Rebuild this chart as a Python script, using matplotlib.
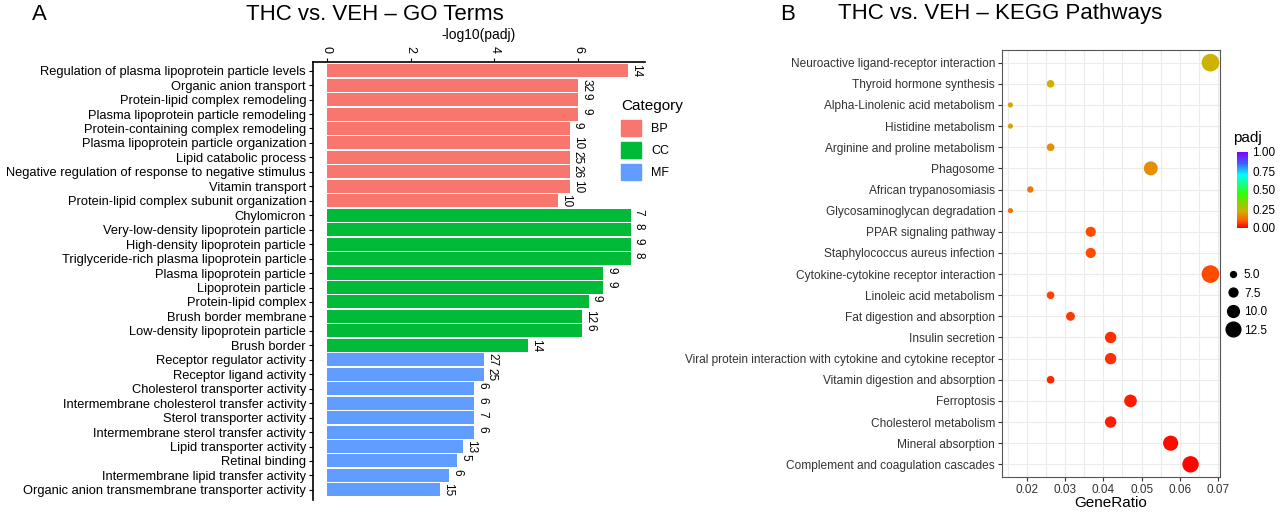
import numpy as np
import matplotlib
matplotlib.use("Agg")
import matplotlib.pyplot as plt
from matplotlib.colors import LinearSegmentedColormap
from matplotlib.patches import Patch
from matplotlib.lines import Line2D

# ---- panel A data (top to bottom)
go_terms = [
    "Regulation of plasma lipoprotein particle levels", "Organic anion transport",
    "Protein-lipid complex remodeling", "Plasma lipoprotein particle remodeling",
    "Protein-containing complex remodeling", "Plasma lipoprotein particle organization",
    "Lipid catabolic process", "Negative regulation of response to negative stimulus",
    "Vitamin transport", "Protein-lipid complex subunit organization",
    "Chylomicron", "Very-low-density lipoprotein particle", "High-density lipoprotein particle",
    "Triglyceride-rich plasma lipoprotein particle", "Plasma lipoprotein particle",
    "Lipoprotein particle", "Protein-lipid complex", "Brush border membrane",
    "Low-density lipoprotein particle", "Brush border",
    "Receptor regulator activity", "Receptor ligand activity", "Cholesterol transporter activity",
    "Intermembrane cholesterol transfer activity", "Sterol transporter activity",
    "Intermembrane sterol transfer activity", "Lipid transporter activity", "Retinal binding",
    "Intermembrane lipid transfer activity", "Organic anion transmembrane transporter activity",
]
go_cat = ["BP"] * 10 + ["CC"] * 10 + ["MF"] * 10
go_logp = [7.2, 6.0, 6.0, 6.0, 5.8, 5.8, 5.8, 5.8, 5.8, 5.53,
           7.26, 7.26, 7.26, 7.26, 6.6, 6.6, 6.26, 6.1, 6.1, 4.8,
           3.76, 3.75, 3.52, 3.52, 3.52, 3.52, 3.26, 3.12, 2.93, 2.7]
go_count = [14, 32, 9, 9, 9, 10, 25, 26, 10, 10,
            7, 8, 9, 8, 9, 9, 9, 12, 6, 14,
            27, 25, 6, 6, 7, 6, 13, 5, 6, 15]
cat_colors = {"BP": "#F8766D", "CC": "#00BA38", "MF": "#619CFF"}

# ---- panel B data (top to bottom)
kegg = [
    "Neuroactive ligand-receptor interaction", "Thyroid hormone synthesis",
    "Alpha-Linolenic acid metabolism", "Histidine metabolism", "Arginine and proline metabolism",
    "Phagosome", "African trypanosomiasis", "Glycosaminoglycan degradation",
    "PPAR signaling pathway", "Staphylococcus aureus infection",
    "Cytokine-cytokine receptor interaction", "Linoleic acid metabolism",
    "Fat digestion and absorption", "Insulin secretion",
    "Viral protein interaction with cytokine and cytokine receptor",
    "Vitamin digestion and absorption", "Ferroptosis", "Cholesterol metabolism",
    "Mineral absorption", "Complement and coagulation cascades",
]
gene_ratio = [0.068, 0.0262, 0.0157, 0.0157, 0.0262, 0.0524, 0.0209, 0.0157, 0.0367, 0.0367,
              0.068, 0.0262, 0.0314, 0.0419, 0.0419, 0.0262, 0.0471, 0.0419, 0.0576, 0.0628]
kegg_count = [13, 5, 3, 3, 5, 10, 4, 3, 7, 7, 13, 5, 6, 8, 8, 5, 9, 8, 11, 12]
padj = [0.23, 0.22, 0.2, 0.2, 0.17, 0.17, 0.13, 0.13, 0.08, 0.08,
        0.08, 0.07, 0.06, 0.05, 0.05, 0.04, 0.03, 0.03, 0.015, 0.005]

plt.rcParams["font.family"] = ["Liberation Sans", "DejaVu Sans"]
fig = plt.figure(figsize=(12.8, 5.12), dpi=100)

# ---- A
ax = fig.add_axes([313 / 1280, 12 / 512, 332 / 1280, 438 / 512])
y = np.arange(len(go_terms))
ax.barh(y, go_logp, height=0.9, color=[cat_colors[c] for c in go_cat])
for yi, v, n in zip(y, go_logp, go_count):
    ax.text(v + 0.05, yi - 0.45, str(n), rotation=-90, va="top", ha="left", fontsize=8.5)
ax.set_ylim(len(go_terms) - 0.3, -0.6)
ax.set_xlim(-0.33, 7.6)
ax.set_yticks(y)
ax.set_yticklabels(go_terms, fontsize=9.3)
ax.xaxis.tick_top()
ax.xaxis.set_label_position("top")
ax.set_xticks([0, 2, 4, 6])
ax.set_xticklabels(["0", "2", "4", "6"], rotation=-90, fontsize=9)
ax.set_xlabel("-log10(padj)", fontsize=10, labelpad=5)
for s in ("right", "bottom"):
    ax.spines[s].set_visible(False)
ax.spines["left"].set_linewidth(1.2)
ax.spines["top"].set_linewidth(1.2)
ax.tick_params(length=3)
ax.tick_params(axis="y", pad=2)
handles = [Patch(color=cat_colors[c], label=c) for c in ("BP", "CC", "MF")]
fig.legend(handles=handles, title="Category", loc="upper left", bbox_to_anchor=(610 / 1280, 1 - 88 / 512),
           frameon=False, fontsize=9, title_fontsize=11, handlelength=1.6, handleheight=1.6,
           alignment="left")
fig.text(32 / 1280, 1 - 14 / 512, "A", fontsize=16, va="center")
fig.text(375 / 1280, 1 - 14 / 512, "THC vs. VEH – GO Terms", fontsize=16, ha="center", va="center")

# ---- B
cmap = LinearSegmentedColormap.from_list(
    "padj", [(0, "#ff0000"), (0.1, "#ff6000"), (0.22, "#d0b000"), (0.45, "#30ff00"),
             (0.7, "#00ffff"), (0.85, "#4060ff"), (1, "#8000ff")])
bx = fig.add_axes([1002 / 1280, 1 - 477 / 512, 218 / 1280, 427 / 512])
yk = np.arange(len(kegg))
sc = bx.scatter(gene_ratio, yk, s=[(c * 0.9) ** 2 for c in kegg_count], c=padj, cmap=cmap,
                vmin=0, vmax=1, zorder=3)
bx.set_ylim(len(kegg) - 0.4, -0.6)
bx.set_xlim(0.0135, 0.0705)
bx.set_yticks(yk)
bx.set_yticklabels(kegg, fontsize=8.6)
bx.set_xticks([0.02, 0.03, 0.04, 0.05, 0.06, 0.07])
bx.set_xticklabels(["0.02", "0.03", "0.04", "0.05", "0.06", "0.07"], fontsize=8.5)
bx.set_xticks(np.arange(0.015, 0.07, 0.01), minor=True)
bx.grid(True, which="both", color="#ebebeb", lw=0.8, zorder=0)
bx.set_axisbelow(True)
bx.tick_params(which="minor", length=0)
bx.tick_params(length=3, colors="#333333", pad=2)
for s in bx.spines.values():
    s.set_color("#555555")
bx.set_xlabel("GeneRatio", fontsize=11, labelpad=0)
cax = fig.add_axes([1237 / 1280, 1 - 228 / 512, 11 / 1280, 76 / 512])
cb = fig.colorbar(sc, cax=cax, ticks=[0, 0.25, 0.5, 0.75, 1.0])
cb.ax.set_yticklabels(["0.00", "0.25", "0.50", "0.75", "1.00"], fontsize=8.5)
cb.outline.set_visible(False)
cb.ax.tick_params(length=2, colors="white", labelcolor="black", pad=1)
fig.text(1233 / 1280, 1 - 142 / 512, "padj", fontsize=11)
sizes = [5.0, 7.5, 10.0, 12.5]
sh = [Line2D([], [], ls="", marker="o", color="black", markersize=v * 0.85, label=f"{v:.1f}") for v in sizes]
fig.legend(handles=sh, loc="upper left", bbox_to_anchor=(1218 / 1280, 1 - 262 / 512), frameon=False,
           fontsize=8.5, handletextpad=0.2, handlelength=1.4, labelspacing=0.55, borderaxespad=0.2)
fig.text(780 / 1280, 1 - 14 / 512, "B", fontsize=16, va="center")
fig.text(1000 / 1280, 1 - 14 / 512, "THC vs. VEH – KEGG Pathways", fontsize=16, ha="center", va="center")

fig.savefig("out.png", dpi=100)
